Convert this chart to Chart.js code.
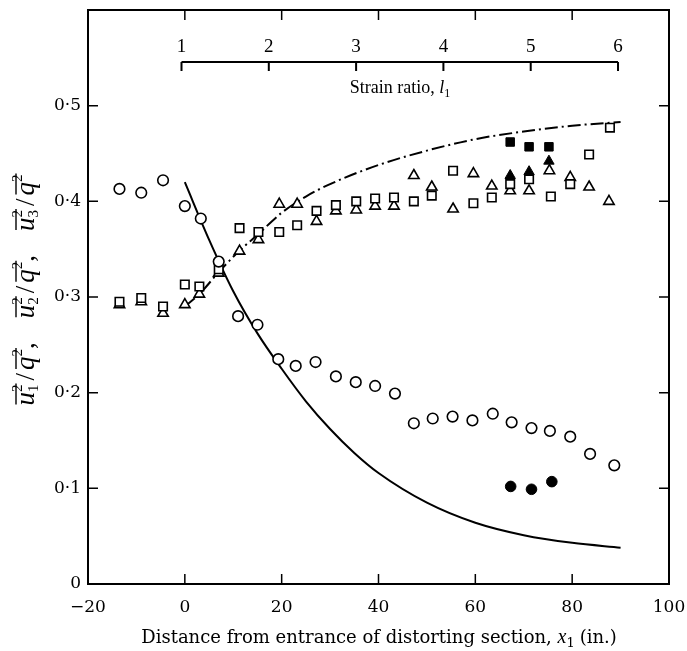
<!DOCTYPE html>
<html lang="en">
<head>
  <meta charset="UTF-8" />
  <title>Velocity components through distorting section</title>
  <script src="https://cdn.jsdelivr.net/npm/chart.js"></script>
  <style>
    html, body {
      margin: 0;
      padding: 0;
      background: #ffffff;
    }
    #wrap {
      width: 687px;
      height: 651px;
    }
  </style>
</head>
<body>
  <div id="wrap"><canvas id="chart" width="687" height="651"></canvas></div>

  <script>
    // axis ranges and ticks
    const xMin = -20, xMax = 100;
    const yMin = 0, yMax = 0.6;
    const xTicks = [-20, 0, 20, 40, 60, 80, 100];
    const yTicks = [0, 0.1, 0.2, 0.3, 0.4, 0.5];
    const strainTicks = [1, 2, 3, 4, 5, 6];

    // open circles, u1^2/q^2
    const circleX = [-13.5, -9, -4.5, 0, 3.3, 7, 11, 15, 19.3, 22.9, 27, 31.2, 35.3, 39.3, 43.4, 47.3, 51.2, 55.3, 59.4, 63.6, 67.5, 71.6, 75.4, 79.6, 83.7, 88.7];
    const circleY = [0.413, 0.409, 0.422, 0.395, 0.382, 0.337, 0.280, 0.271, 0.235, 0.228, 0.232, 0.217, 0.211, 0.207, 0.199, 0.168, 0.173, 0.175, 0.171, 0.178, 0.169, 0.163, 0.160, 0.154, 0.136, 0.124];

    // open squares, u2^2/q^2
    const squareX = [-13.5, -9, -4.5, 0, 3, 7, 11.3, 15.2, 19.5, 23.2, 27.2, 31.2, 35.4, 39.3, 43.2, 47.3, 51, 55.4, 59.6, 63.4, 67.2, 71.1, 75.6, 79.6, 83.5, 87.8];
    const squareY = [0.295, 0.299, 0.290, 0.313, 0.311, 0.329, 0.372, 0.368, 0.368, 0.375, 0.390, 0.396, 0.400, 0.403, 0.404, 0.400, 0.406, 0.432, 0.398, 0.404, 0.418, 0.423, 0.405, 0.418, 0.449, 0.477];

    // open triangles, u3^2/q^2
    const triangleX = [-13.5, -9, -4.5, 0, 3, 7, 11.3, 15.2, 19.5, 23.2, 27.2, 31.2, 35.4, 39.3, 43.2, 47.3, 51, 55.4, 59.6, 63.4, 67.2, 71.1, 75.3, 79.6, 83.5, 87.6];
    const triangleY = [0.292, 0.295, 0.283, 0.292, 0.303, 0.325, 0.348, 0.360, 0.397, 0.397, 0.379, 0.390, 0.391, 0.395, 0.395, 0.427, 0.415, 0.392, 0.429, 0.416, 0.411, 0.411, 0.432, 0.425, 0.415, 0.400];

    // filled symbols
    const dotX = [67.3, 71.6, 75.8];
    const dotY = [0.102, 0.099, 0.107];
    const boxX = [67.2, 71.1, 75.2];
    const boxY = [0.462, 0.457, 0.457];
    const wedgeX = [67.2, 71.1, 75.2];
    const wedgeY = [0.427, 0.431, 0.442];

    // solid curve (u1) and dash-dot curve (u3)
    const solidX = [0, 5, 10, 15, 20, 25, 30, 35, 40, 50, 60, 70, 80, 90];
    const solidY = [0.420, 0.360, 0.306, 0.262, 0.225, 0.191, 0.162, 0.137, 0.116, 0.085, 0.064, 0.051, 0.043, 0.038];
    const dashX = [0, 3, 7, 11, 15, 20, 25, 30, 40, 50, 60, 70, 80, 90];
    const dashY = [0.290, 0.303, 0.326, 0.347, 0.365, 0.388, 0.405, 0.418, 0.438, 0.453, 0.465, 0.473, 0.479, 0.483];

    const pts = (xs, ys) => xs.map((x, i) => ({ x: x, y: ys[i] }));

    const TICK = 10;
    const romanFont = '"Liberation Serif", "Times New Roman", serif';
    const bookFont = '"DejaVu Serif", serif';

    const drawRuns = (ctx, runs, cx, baseY) => {
      let total = 0;
      runs.forEach(r => {
        ctx.font = r.font;
        r.w = ctx.measureText(r.t).width;
        total += r.w + (r.gap || 0);
      });
      let x = cx - total / 2;
      ctx.textAlign = 'left';
      ctx.textBaseline = 'alphabetic';
      runs.forEach(r => {
        ctx.font = r.font;
        ctx.fillText(r.t, x, baseY + (r.dy || 0));
        x += r.w + (r.gap || 0);
      });
    };

    // rotated y title: overline(u_i^2)/overline(q^2)
    const drawYTitle = (ctx, cx, cy) => {
      const big = 'italic 27px ' + romanFont;
      const reg = '27px ' + romanFont;
      const small = '15px ' + romanFont;
      ctx.save();
      ctx.translate(cx, cy);
      ctx.rotate(-Math.PI / 2);
      ctx.textBaseline = 'alphabetic';
      ctx.textAlign = 'left';
      ctx.fillStyle = '#000';
      ctx.strokeStyle = '#000';
      ctx.lineWidth = 1.4;

      const groups = ['1', '2', '3'];
      const measure = (f, t) => { ctx.font = f; return ctx.measureText(t).width; };
      const groupW = measure(big, 'u') + measure(small, '2') + 4 + measure(reg, '/') + 3 + measure(big, 'q') + measure(small, '2');
      const sepW = measure(reg, ',') + 24;
      const total = groups.length * groupW + (groups.length - 1) * sepW;
      let x = -total / 2;
      const base = 9, barY = -18;

      groups.forEach((g, i) => {
        const x0 = x;
        ctx.font = big; ctx.fillText('u', x, base); x += measure(big, 'u');
        ctx.font = small; ctx.fillText('2', x, base - 12); ctx.fillText(g, x, base + 4);
        x += measure(small, '2');
        ctx.beginPath(); ctx.moveTo(x0 + 1, base + barY); ctx.lineTo(x + 1, base + barY); ctx.stroke();
        x += 4;
        ctx.font = reg; ctx.fillText('/', x, base); x += measure(reg, '/') + 3;
        const q0 = x;
        ctx.font = big; ctx.fillText('q', x, base); x += measure(big, 'q');
        ctx.font = small; ctx.fillText('2', x, base - 12); x += measure(small, '2');
        ctx.beginPath(); ctx.moveTo(q0 + 1, base + barY); ctx.lineTo(x + 1, base + barY); ctx.stroke();
        if (i < groups.length - 1) {
          ctx.font = reg; ctx.fillText(',', x, base); x += sepW;
        }
      });
      ctx.restore();
    };

    const framePlugin = {
      id: 'frame',
      afterDraw(chart) {
        const { ctx, chartArea: a } = chart;
        const xs = chart.scales.x, ys = chart.scales.y, ss = chart.scales.strain;
        ctx.save();
        ctx.strokeStyle = '#000';
        ctx.fillStyle = '#000';

        // frame
        ctx.lineWidth = 2;
        ctx.strokeRect(a.left, a.top, a.right - a.left, a.bottom - a.top);

        // inward ticks on all four sides
        ctx.lineWidth = 1.5;
        ctx.beginPath();
        xTicks.forEach(v => {
          if (v <= xMin || v >= xMax) return;
          const px = xs.getPixelForValue(v);
          ctx.moveTo(px, a.bottom); ctx.lineTo(px, a.bottom - TICK);
          ctx.moveTo(px, a.top); ctx.lineTo(px, a.top + TICK);
        });
        yTicks.forEach(v => {
          if (v <= yMin) return;
          const py = ys.getPixelForValue(v);
          ctx.moveTo(a.left, py); ctx.lineTo(a.left + TICK, py);
          ctx.moveTo(a.right, py); ctx.lineTo(a.right - TICK, py);
        });
        ctx.stroke();

        // strain ratio axis inside the plot
        const sy = 62;
        ctx.lineWidth = 2;
        ctx.beginPath();
        ctx.moveTo(ss.getPixelForValue(strainTicks[0]), sy);
        ctx.lineTo(ss.getPixelForValue(strainTicks[strainTicks.length - 1]), sy);
        strainTicks.forEach(l => {
          const px = ss.getPixelForValue(l);
          ctx.moveTo(px, sy); ctx.lineTo(px, sy + 9);
        });
        ctx.stroke();
        ctx.font = '19px ' + romanFont;
        ctx.textAlign = 'center';
        ctx.textBaseline = 'alphabetic';
        strainTicks.forEach(l => ctx.fillText(String(l), ss.getPixelForValue(l), sy - 10));

        drawRuns(ctx, [
          { t: 'Strain ratio, ', font: '18px ' + romanFont },
          { t: 'l', font: 'italic 18px ' + romanFont },
          { t: '1', font: '12px ' + romanFont, dy: 4 }
        ], 400, 93);

        drawRuns(ctx, [
          { t: 'Distance from entrance of distorting section, ', font: '18px ' + bookFont },
          { t: 'x', font: 'italic 20px ' + romanFont },
          { t: '1', font: '13px ' + bookFont, dy: 4, gap: 5 },
          { t: '(in.)', font: '18px ' + bookFont }
        ], 379, 643);

        drawYTitle(ctx, 25, 290);
        ctx.restore();
      }
    };

    const openStyle = (style, radius) => ({
      pointStyle: style,
      pointRadius: radius,
      borderColor: '#000',
      backgroundColor: '#fff',
      borderWidth: 1.6,
      order: 1
    });
    const filledStyle = (style, radius) => ({
      pointStyle: style,
      pointRadius: radius,
      borderColor: '#000',
      backgroundColor: '#000',
      borderWidth: 1,
      order: 0
    });

    new Chart(document.getElementById('chart'), {
      type: 'scatter',
      data: {
        datasets: [
          Object.assign({ label: 'u1 open', data: pts(circleX, circleY) }, openStyle('circle', 5.3)),
          Object.assign({ label: 'u2 open', data: pts(squareX, squareY) }, openStyle('rect', 6)),
          Object.assign({ label: 'u3 open', data: pts(triangleX, triangleY) }, openStyle('triangle', 6)),
          Object.assign({ label: 'u1 filled', data: pts(dotX, dotY) }, filledStyle('circle', 5.3)),
          Object.assign({ label: 'u2 filled', data: pts(boxX, boxY) }, filledStyle('rect', 6)),
          Object.assign({ label: 'u3 filled', data: pts(wedgeX, wedgeY) }, filledStyle('triangle', 6)),
          {
            type: 'line',
            label: 'u1 curve',
            data: pts(solidX, solidY),
            borderColor: '#000',
            borderWidth: 2,
            pointRadius: 0,
            cubicInterpolationMode: 'monotone',
            fill: false,
            order: 5
          },
          {
            type: 'line',
            label: 'u3 curve',
            data: pts(dashX, dashY),
            borderColor: '#000',
            borderWidth: 2,
            borderDash: [13, 4, 2, 4],
            pointRadius: 0,
            cubicInterpolationMode: 'monotone',
            fill: false,
            order: 5
          }
        ]
      },
      options: {
        responsive: false,
        animation: false,
        layout: { autoPadding: false, padding: { top: 10, right: 18, left: 0, bottom: 0 } },
        plugins: {
          legend: { display: false },
          tooltip: { enabled: false }
        },
        scales: {
          x: {
            type: 'linear',
            min: xMin,
            max: xMax,
            afterBuildTicks: s => { s.ticks = xTicks.map(v => ({ value: v })); },
            afterFit: s => { s.height = 67; s.paddingLeft = 0; s.paddingRight = 0; },
            grid: { display: false, drawTicks: false },
            border: { display: false },
            ticks: {
              color: '#000',
              font: { family: bookFont, size: 17 },
              padding: 13,
              maxRotation: 0,
              autoSkip: false,
              callback: v => v < 0 ? '\u2212' + Math.abs(v) : String(v)
            }
          },
          y: {
            type: 'linear',
            min: yMin,
            max: yMax,
            afterBuildTicks: s => { s.ticks = yTicks.map(v => ({ value: v })); },
            afterFit: s => { s.width = 88; s.paddingTop = 0; s.paddingBottom = 0; },
            grid: { display: false, drawTicks: false },
            border: { display: false },
            ticks: {
              color: '#000',
              font: { family: bookFont, size: 17 },
              padding: 7,
              callback: v => v === 0 ? '0' : v.toFixed(1).replace('.', '\u00B7')
            }
          },
          strain: {
            type: 'linear',
            axis: 'x',
            position: 'top',
            display: false,
            min: -0.071,
            max: 6.584
          }
        }
      },
      plugins: [framePlugin]
    });
  </script>
</body>
</html>
